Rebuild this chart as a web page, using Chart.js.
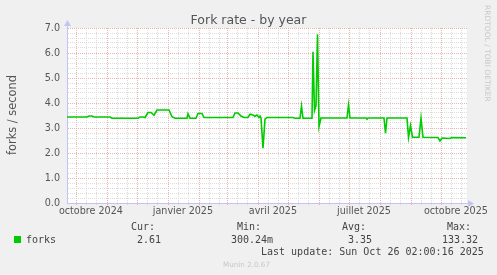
<!DOCTYPE html>
<html lang="fr">
<head>
<meta charset="UTF-8">
<title>Fork rate - by year</title>
<script src="https://cdn.jsdelivr.net/npm/chart.js"></script>
<style>
    body {
        margin: 0;
        background-color: #f0f0f0;
    }
    .wrap {
        width: 497px;
        height: 275px;
        position: relative;
    }
</style>
</head>
<body>
<div class="wrap"><canvas id="graph"></canvas></div>
<script>
    // day offsets from the left edge of the graph (21 Sep 2024) and fork rate values
    const dayIdx = [0, 20, 22, 25, 27, 43, 45, 71, 73, 76, 78, 81, 84, 87, 90, 102, 105, 108, 120, 121,
        123, 129, 131, 135, 137, 166, 168, 171, 174, 177, 181, 183, 186, 188, 190, 192, 193, 194, 196, 198,
        200, 226, 228, 233, 234.5, 236, 245, 246, 247.5, 249, 250.5, 252, 254, 280, 281.5, 283, 299, 300, 301, 317,
        318.5, 320, 340, 341.5, 343.5, 345.5, 352, 354, 356, 371, 373, 375, 383, 385, 399];
    const forks = [3.44, 3.44, 3.48, 3.48, 3.44, 3.44, 3.39, 3.39, 3.44, 3.44, 3.42, 3.62, 3.62, 3.51, 3.72, 3.72, 3.45, 3.39, 3.39, 3.57,
        3.39, 3.39, 3.58, 3.58, 3.42, 3.42, 3.6, 3.6, 3.48, 3.42, 3.42, 3.55, 3.52, 3.47, 3.52, 3.42, 3.48, 3.4, 2.19, 3.35,
        3.42, 3.42, 3.39, 3.39, 3.88, 3.39, 3.39, 6.05, 3.7, 3.9, 6.75, 3.05, 3.4, 3.4, 3.92, 3.4, 3.4, 3.35, 3.4, 3.4,
        2.79, 3.4, 3.4, 2.62, 3.1, 2.63, 2.63, 3.39, 2.63, 2.62, 2.48, 2.6, 2.58, 2.62, 2.61];

    // x axis labels (placed mid-month) and the month each one belongs to
    const xLabels = ['octobre 2024', 'janvier 2025', 'avril 2025', 'juillet 2025', 'octobre 2025'];
    const labelMonths = [[2024, 9], [2025, 0], [2025, 3], [2025, 6], [2025, 9]];
    const yTicks = ['0.0', '1.0', '2.0', '3.0', '4.0', '5.0', '6.0', '7.0'];

    // legend table
    const legendHeads = ['Cur:', 'Min:', 'Avg:', 'Max:'];
    const legendVals = ['2.61', '300.24m', '3.35', '133.32'];
    const lastUpdate = 'Last update: Sun Oct 26 02:00:16 2025';

    const start = Date.UTC(2024, 8, 21, 2, 0, 16);
    const dayOf = (y, m, d) => (Date.UTC(y, m, d) - start) / 86400000;

    // month starts = major grid, 11th and 21st = minor grid, 15th of label months = labels
    const xTicks = [];
    for (let i = 0; i < 14; i++) {
        const y = 2024 + Math.floor((8 + i) / 12);
        const m = (8 + i) % 12;
        [1, 11, 21].forEach(d => {
            const v = dayOf(y, m, d);
            if (v > 0.5 && v < 400) xTicks.push({ value: v, kind: d === 1 ? 'major' : 'minor' });
        });
    }
    labelMonths.forEach((lm, i) => {
        xTicks.push({ value: dayOf(lm[0], lm[1], 15), kind: 'label', text: xLabels[i] });
    });
    xTicks.sort((a, b) => a.value - b.value);

    const RED = 'rgba(232,165,165,0.85)';
    const GREY = 'rgba(214,214,214,0.85)';
    const AXIS = '#c4c4f4';

    const decor = {
        id: 'decor',
        beforeDraw(chart) {
            const { ctx, chartArea: a } = chart;
            ctx.save();
            ctx.fillStyle = '#ffffff';
            ctx.fillRect(a.left, a.top, a.right - a.left, a.bottom - a.top);
            ctx.restore();
        },
        afterDraw(chart) {
            const { ctx, chartArea: a } = chart;
            ctx.save();
            // axis extensions and arrows
            ctx.strokeStyle = AXIS;
            ctx.fillStyle = AXIS;
            ctx.lineWidth = 1;
            ctx.beginPath();
            ctx.moveTo(a.left + 0.5, a.top);
            ctx.lineTo(a.left + 0.5, a.top - 3);
            ctx.moveTo(a.right, a.bottom + 0.5);
            ctx.lineTo(a.right + 2, a.bottom + 0.5);
            ctx.stroke();
            ctx.beginPath();
            ctx.moveTo(a.left + 0.5, a.top - 8);
            ctx.lineTo(a.left - 3, a.top - 2);
            ctx.lineTo(a.left + 4, a.top - 2);
            ctx.closePath();
            ctx.fill();
            ctx.beginPath();
            ctx.moveTo(a.right + 7, a.bottom + 0.5);
            ctx.lineTo(a.right + 1, a.bottom - 3);
            ctx.lineTo(a.right + 1, a.bottom + 4);
            ctx.closePath();
            ctx.fill();

            // title
            ctx.fillStyle = '#555';
            ctx.font = '12.5px "DejaVu Sans"';
            ctx.textAlign = 'center';
            ctx.textBaseline = 'alphabetic';
            ctx.fillText('Fork rate - by year', 248.5, 24);

            // y axis title
            ctx.save();
            ctx.translate(15.5, 115);
            ctx.rotate(-Math.PI / 2);
            ctx.font = '11.4px "DejaVu Sans"';
            ctx.fillText('forks / second', 0, 0);
            ctx.restore();

            // watermark on the right
            ctx.save();
            ctx.translate(485, 5);
            ctx.rotate(Math.PI / 2);
            ctx.fillStyle = '#c8c8c8';
            ctx.font = '7.5px "DejaVu Sans"';
            ctx.textAlign = 'left';
            ctx.fillText('RRDTOOL / TOBI OETIKER', 0, 0);
            ctx.restore();

            // legend
            ctx.fillStyle = '#00cc00';
            ctx.fillRect(14, 236, 7, 7);
            ctx.fillStyle = '#444';
            ctx.font = '10px "DejaVu Sans Mono"';
            ctx.textAlign = 'left';
            const headX = [131, 237, 342, 447];
            const valX = [137, 231, 348, 442];
            legendHeads.forEach((t, i) => ctx.fillText(t, headX[i], 230));
            ctx.fillText('forks', 26, 243);
            legendVals.forEach((t, i) => ctx.fillText(t, valX[i], 243));
            ctx.fillText(lastUpdate, 261, 255);

            ctx.fillStyle = '#c8c8c8';
            ctx.font = '7.2px "DejaVu Sans"';
            ctx.fillText('Munin 2.0.67', 223, 267);
            ctx.restore();
        }
    };

    Chart.defaults.font.family = '"DejaVu Sans"';
    Chart.defaults.color = '#555';

    new Chart(document.getElementById('graph'), {
        type: 'line',
        data: {
            datasets: [{
                label: 'forks',
                data: dayIdx.map((d, i) => ({ x: d, y: forks[i] })),
                borderColor: '#00cc00',
                borderWidth: 1.6,
                pointRadius: 0,
                tension: 0,
                fill: false
            }]
        },
        options: {
            responsive: true,
            maintainAspectRatio: false,
            animation: false,
            layout: { padding: { left: 0, right: 30, top: 28, bottom: 52 } },
            plugins: {
                legend: { display: false },
                tooltip: { enabled: false },
                title: { display: false }
            },
            scales: {
                x: {
                    type: 'linear',
                    min: 0,
                    max: 400,
                    afterBuildTicks: s => { s.ticks = xTicks.map(t => ({ value: t.value })); },
                    afterFit: s => { s.height = 20; },
                    border: { color: AXIS, width: 1, dash: [1, 1] },
                    grid: {
                        color: c => {
                            const t = xTicks[c.index];
                            if (!t || t.kind === 'label') return 'rgba(0,0,0,0)';
                            return t.kind === 'major' ? RED : GREY;
                        },
                        tickLength: 2
                    },
                    ticks: {
                        autoSkip: false,
                        maxRotation: 0,
                        padding: 1,
                        font: { size: 9.6 },
                        color: '#555',
                        callback: (v, i) => (xTicks[i] && xTicks[i].kind === 'label') ? xTicks[i].text : ''
                    }
                },
                y: {
                    min: 0,
                    max: 7,
                    afterBuildTicks: s => {
                        const t = [];
                        for (let i = 0; i <= 35; i++) t.push({ value: i / 5 });
                        s.ticks = t;
                    },
                    afterFit: s => { s.width = 67; },
                    border: { color: AXIS, width: 1, dash: [1, 1] },
                    grid: {
                        color: c => (c.index % 5 === 0 ? RED : GREY),
                        drawTicks: false
                    },
                    ticks: {
                        autoSkip: false,
                        padding: 7,
                        font: { size: 9.6 },
                        color: '#555',
                        callback: (v, i) => (i % 5 === 0 ? yTicks[i / 5] : '')
                    }
                }
            }
        },
        plugins: [decor]
    });
</script>
</body>
</html>
